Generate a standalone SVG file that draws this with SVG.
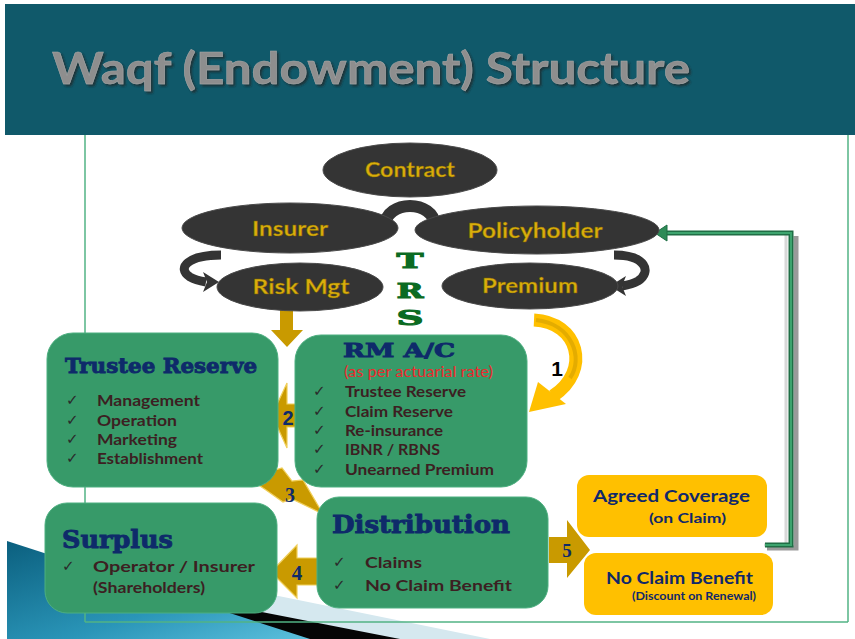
<svg xmlns="http://www.w3.org/2000/svg" width="855" height="639" viewBox="0 0 855 639">
<defs>
<linearGradient id="blueG" x1="0" y1="0" x2="1" y2="1">
<stop offset="0" stop-color="#0B5F7E"/>
<stop offset="0.6" stop-color="#2A95B8"/>
<stop offset="1" stop-color="#5CC0DD"/>
</linearGradient>
<filter id="shadow" x="-5%" y="-20%" width="110%" height="140%">
<feDropShadow dx="2" dy="2" stdDeviation="1" flood-color="#222" flood-opacity="0.7"/>
</filter>
<style>
.ell{fill:#343434;stroke:#4a4a4a;stroke-width:1}
.etxt{font-family:"Lato","Liberation Sans",sans-serif;font-weight:bold;fill:#D9AE0C;stroke:#7a5e00;stroke-width:0.4;text-anchor:middle}
.gbox{fill:#379A69;stroke:#4DAF80;stroke-width:1}
.ybox{fill:#FFC000}
.head{font-family:"DejaVu Serif","Liberation Serif",serif;font-weight:bold;fill:#0E2A6A;stroke:#0E2A6A;stroke-width:0.9}
.item{font-family:"Lato","Liberation Sans",sans-serif;font-weight:bold;fill:#3C1F22;font-size:15.5px}
.chk{font-family:"DejaVu Sans",sans-serif;fill:#2a2a2a;font-size:15px}
.ytxt{font-family:"Lato","Liberation Sans",sans-serif;font-weight:bold;fill:#10286A}
.gold{fill:#C99A00;stroke:#F0CF5A;stroke-width:1.2}
.num{fill:#0E2A6A;font-weight:bold;text-anchor:middle}
</style>
</defs>

<!-- header -->
<rect x="5" y="4" width="850" height="131" fill="#10596A"/>
<text x="52" y="84" font-family="Lato,'Liberation Sans',sans-serif" font-weight="bold" font-size="44" fill="#8E8E8E" stroke="#a8a8a8" stroke-width="0.5" textLength="638" lengthAdjust="spacingAndGlyphs" filter="url(#shadow)">Waqf (Endowment) Structure</text>

<!-- bottom-left decoration -->
<polygon points="150,570 490,639 150,639" fill="#D5E8EF"/>
<polygon points="200,600 400,639 200,639" fill="#050505"/>
<polygon points="7,541 310,639 7,639" fill="url(#blueG)"/>

<!-- frame -->
<g fill="none" stroke="#52B384" stroke-width="1.5">
<line x1="85" y1="135" x2="85" y2="622"/>
<line x1="848" y1="135" x2="848" y2="622"/>
<line x1="85" y1="622" x2="848" y2="622"/>
</g>

<!-- connectors -->
<g id="connectors">
<path d="M386,223 A24,17 0 0 1 434,223" fill="none" stroke="#343434" stroke-width="12"/>
<path d="M221,255 C188,255 176,268 190,277 C195,280 200,281 206,282" fill="none" stroke="#343434" stroke-width="9"/>
<polygon points="203,272 207,282 203,292 219,282" fill="#343434"/>
<path d="M614,255 C646,255 652,272 638,281 C633,284 628,285 622,286" fill="none" stroke="#343434" stroke-width="9"/>
<polygon points="626,276 622,286 626,296 610,286" fill="#343434"/>
<polygon points="280,310 293,310 293,330 303,330 287,347 271,330 280,330" fill="#C99A00"/>
<path d="M534,320 C578,322 592,370 553,396" fill="none" stroke="#FFC000" stroke-width="13"/>
<path d="M536,320 C572,324 584,358 570,378" fill="none" stroke="#D9A400" stroke-width="4" opacity="0.7"/>
<polygon points="529,412 538,382 566,404" fill="#FFC000"/>
<text x="557" y="376" font-family="'Liberation Sans',sans-serif" font-weight="bold" font-size="21" fill="#000" text-anchor="middle">1</text>
<polygon class="gold" points="272,415 287,383 287,404 298,404 298,427 287,427 287,448"/>
<text class="num" x="288" y="425" font-family="'Liberation Sans',sans-serif" font-size="20">2</text>
<polygon class="gold" points="248,478 282,468 292,481 303,480 323,514 292,499 283,502 266,490"/>
<text class="num" x="290" y="502" font-family="'Liberation Serif',serif" font-size="20">3</text>
<polygon class="gold" points="271,572 297,545 297,558 320,558 320,585 297,585 297,598"/>
<text class="num" x="297" y="580" font-family="'Liberation Serif',serif" font-size="21">4</text>
<polygon points="549,537 567,537 567,520 590,550 567,578 567,563 549,563" fill="#C99A00"/>
<text class="num" x="567" y="557" font-family="'Liberation Serif',serif" font-size="19">5</text>
<path d="M767,548 L796,548 L796,236" fill="none" stroke="#9a9a9a" stroke-width="5"/>
<path d="M764,545 L786,545 L786,233" fill="none" stroke="#d8d8d8" stroke-width="3"/>
<path d="M765,545 L791,545 L791,233 L664,233" fill="none" stroke="#1F6E45" stroke-width="5"/>
<path d="M765,545 L791,545 L791,233 L664,233" fill="none" stroke="#3DA46E" stroke-width="2"/>
<polygon points="655,233 667,225 667,241" fill="#2E8B57" stroke="#1F6E45" stroke-width="1"/>
</g>

<!-- ellipse nodes -->
<g id="contract">
<ellipse class="ell" cx="410" cy="170" rx="87" ry="27"/>
<text class="etxt" x="410" y="177" font-size="20" textLength="90" lengthAdjust="spacingAndGlyphs">Contract</text>
</g>
<g id="insurer">
<ellipse class="ell" cx="290" cy="228" rx="108" ry="25"/>
<text class="etxt" x="290" y="236" font-size="20" textLength="76" lengthAdjust="spacingAndGlyphs">Insurer</text>
</g>
<g id="policyholder">
<ellipse class="ell" cx="537" cy="230" rx="122" ry="24"/>
<text class="etxt" x="535" y="238" font-size="20" textLength="135" lengthAdjust="spacingAndGlyphs">Policyholder</text>
</g>
<g id="riskmgt">
<ellipse class="ell" cx="300" cy="287" rx="83" ry="24"/>
<text class="etxt" x="301" y="294" font-size="20" textLength="97" lengthAdjust="spacingAndGlyphs">Risk Mgt</text>
</g>
<g id="premium">
<ellipse class="ell" cx="530" cy="286" rx="88" ry="23"/>
<text class="etxt" x="530" y="293" font-size="20" textLength="96" lengthAdjust="spacingAndGlyphs">Premium</text>
</g>

<!-- TRS -->
<g id="trs" font-family="'DejaVu Serif','Liberation Serif',serif" font-weight="bold" font-size="21" fill="#0B6B22" stroke="#0B6B22" stroke-width="1" text-anchor="middle">
<text x="410" y="268" textLength="27" lengthAdjust="spacingAndGlyphs">T</text>
<text x="410" y="298" textLength="27" lengthAdjust="spacingAndGlyphs">R</text>
<text x="410" y="325" textLength="27" lengthAdjust="spacingAndGlyphs">S</text>
</g>

<!-- Trustee Reserve -->
<g id="trustee">
<rect class="gbox" x="47" y="333" width="231" height="154" rx="26"/>
<text class="head" x="65" y="373" font-size="21" textLength="192" lengthAdjust="spacingAndGlyphs">Trustee Reserve</text>
<text class="chk" x="66" y="405">✓</text><text class="item" x="97" y="406" textLength="103" lengthAdjust="spacingAndGlyphs">Management</text>
<text class="chk" x="66" y="425">✓</text><text class="item" x="97" y="426" textLength="80" lengthAdjust="spacingAndGlyphs">Operation</text>
<text class="chk" x="66" y="444">✓</text><text class="item" x="97" y="445" textLength="80" lengthAdjust="spacingAndGlyphs">Marketing</text>
<text class="chk" x="66" y="463">✓</text><text class="item" x="97" y="464" textLength="106" lengthAdjust="spacingAndGlyphs">Establishment</text>
</g>

<!-- RM A/C -->
<g id="rmac">
<rect class="gbox" x="295" y="335" width="232" height="152" rx="26"/>
<text class="head" x="343" y="357" font-size="19" textLength="112" lengthAdjust="spacingAndGlyphs">RM A/C</text>
<text x="344" y="377" font-family="Lato,'Liberation Sans',sans-serif" font-size="15" fill="#EC2A2E" textLength="149" lengthAdjust="spacingAndGlyphs">(as per actuarial rate)</text>
<text class="chk" x="313" y="396">✓</text><text class="item" x="345" y="397" textLength="121" lengthAdjust="spacingAndGlyphs">Trustee Reserve</text>
<text class="chk" x="313" y="416">✓</text><text class="item" x="345" y="417" textLength="108" lengthAdjust="spacingAndGlyphs">Claim Reserve</text>
<text class="chk" x="313" y="435">✓</text><text class="item" x="345" y="436" textLength="98" lengthAdjust="spacingAndGlyphs">Re-insurance</text>
<text class="chk" x="313" y="454">✓</text><text class="item" x="345" y="455" textLength="95" lengthAdjust="spacingAndGlyphs">IBNR / RBNS</text>
<text class="chk" x="313" y="474">✓</text><text class="item" x="345" y="475" textLength="149" lengthAdjust="spacingAndGlyphs">Unearned Premium</text>
</g>

<!-- Surplus -->
<g id="surplus">
<rect class="gbox" x="45" y="503" width="232" height="110" rx="22"/>
<text class="head" x="62" y="548" font-size="25" textLength="111" lengthAdjust="spacingAndGlyphs">Surplus</text>
<text class="chk" x="62" y="571">✓</text><text class="item" x="93" y="572" textLength="162" lengthAdjust="spacingAndGlyphs">Operator / Insurer</text>
<text class="item" x="93" y="593" font-size="13.5" textLength="112" lengthAdjust="spacingAndGlyphs">(Shareholders)</text>
</g>

<!-- Distribution -->
<g id="distribution">
<rect class="gbox" x="317" y="497" width="231" height="111" rx="22"/>
<text class="head" x="332" y="533" font-size="25" textLength="178" lengthAdjust="spacingAndGlyphs">Distribution</text>
<text class="chk" x="333" y="567">✓</text><text class="item" x="365" y="568" textLength="57" lengthAdjust="spacingAndGlyphs">Claims</text>
<text class="chk" x="333" y="590">✓</text><text class="item" x="365" y="591" textLength="147" lengthAdjust="spacingAndGlyphs">No Claim Benefit</text>
</g>

<!-- Agreed Coverage -->
<g id="agreed">
<rect class="ybox" x="577" y="475" width="190" height="62" rx="12"/>
<text class="ytxt" x="593" y="502" font-size="17" textLength="157" lengthAdjust="spacingAndGlyphs">Agreed Coverage</text>
<text class="ytxt" x="649" y="523" font-size="13" textLength="77" lengthAdjust="spacingAndGlyphs">(on Claim)</text>
</g>

<!-- No Claim Benefit -->
<g id="noclaim">
<rect class="ybox" x="584" y="553" width="189" height="62" rx="12"/>
<text class="ytxt" x="606" y="584" font-size="17" textLength="147" lengthAdjust="spacingAndGlyphs">No Claim Benefit</text>
<text class="ytxt" x="632" y="600" font-size="10.5" textLength="124" lengthAdjust="spacingAndGlyphs">(Discount on Renewal)</text>
</g>
</svg>
